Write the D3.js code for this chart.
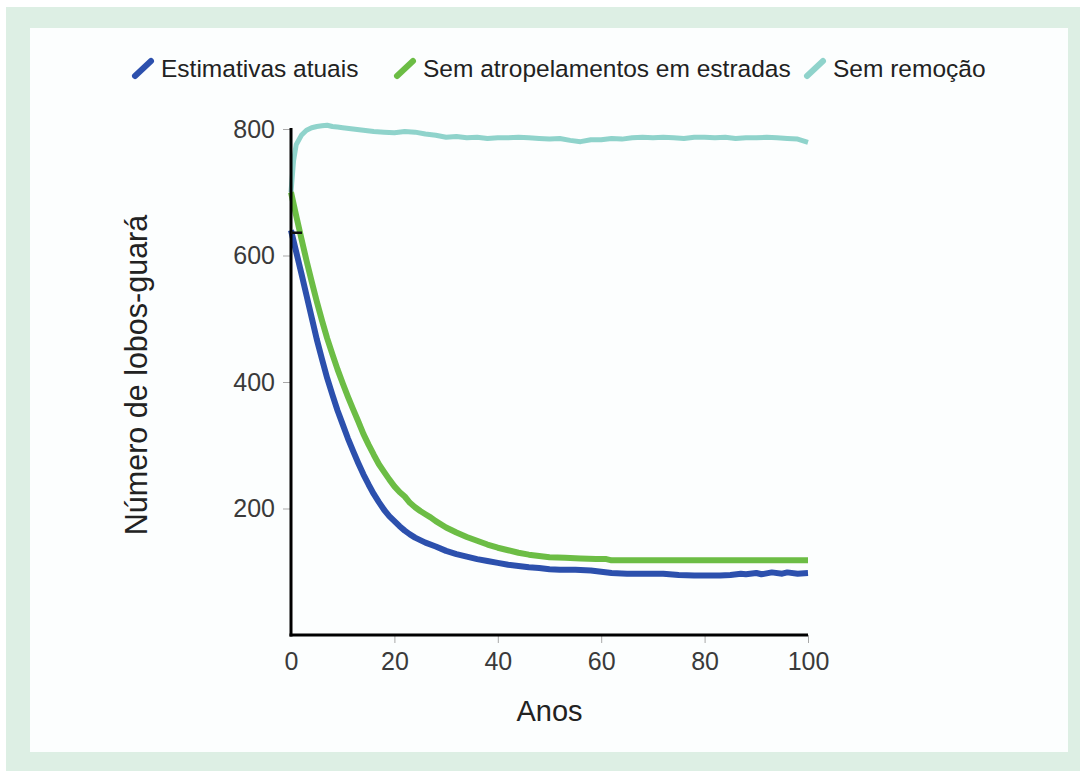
<!DOCTYPE html>
<html>
<head>
<meta charset="utf-8">
<script src="https://cdn.jsdelivr.net/npm/d3@7"></script>
<style>
  html, body { margin: 0; padding: 0; background: #ffffff; }
  svg { display: block; font-family: "Liberation Sans", Arial, sans-serif; }
</style>
</head>
<body>
<div id="chart"></div>
<script>
// Anos lidos no gráfico e valores de cada cenário
const yearsBlue = [0, 1, 2, 3, 4, 5, 6, 7, 8, 9, 10, 11, 12, 13, 14, 15, 16, 17, 18, 19, 20, 21, 22, 23, 24, 25, 26, 28, 30, 32, 34, 36, 38, 40, 42, 44, 46, 48, 50, 52, 55, 58, 60, 62, 65, 68, 70, 72, 75, 78, 80, 83, 85, 87, 88, 90, 91, 93, 95, 96, 98, 100];
const blueValues = [640, 606, 572, 537, 502, 467, 436, 406, 380, 355, 333, 311, 291, 272, 254, 238, 223, 210, 198, 188, 180, 172, 165, 159, 154, 150, 146, 140, 133, 128, 124, 120, 117, 114, 111, 109, 107, 106, 104, 103, 103, 102, 100, 98, 97, 97, 97, 97, 95, 94, 94, 94, 95, 97, 96, 98, 96, 99, 97, 99, 97, 98];

const yearsGreen = [0, 1, 2, 3, 4, 5, 6, 7, 8, 9, 10, 11, 12, 13, 14, 15, 16, 17, 18, 19, 20, 21, 22, 23, 24, 25, 26, 27, 28, 30, 32, 34, 36, 38, 40, 42, 44, 46, 48, 50, 53, 56, 59, 61, 62, 65, 70, 75, 80, 85, 90, 95, 100];
const greenValues = [700, 663, 627, 592, 559, 527, 497, 469, 444, 420, 398, 377, 357, 338, 318, 301, 285, 270, 258, 246, 235, 226, 219, 209, 202, 196, 191, 186, 180, 170, 162, 155, 149, 143, 138, 134, 130, 127, 125, 123, 122, 121, 120, 120, 118, 118, 118, 118, 118, 118, 118, 118, 118];

const yearsTeal = [0, 0.5, 1, 2, 3, 4, 5, 6, 7, 8, 9, 10, 12, 14, 16, 18, 20, 22, 24, 26, 28, 30, 32, 34, 36, 38, 40, 42, 44, 46, 48, 50, 52, 54, 56, 58, 60, 62, 64, 66, 68, 70, 72, 74, 76, 78, 80, 82, 84, 86, 88, 90, 92, 94, 96, 98, 100];
const tealValues = [700, 750, 775, 790, 798, 802, 804, 805, 806, 804, 803, 802, 800, 798, 796, 795, 794, 796, 795, 792, 790, 787, 788, 786, 787, 785, 786, 786, 787, 786, 785, 784, 785, 782, 780, 783, 783, 785, 784, 786, 787, 786, 787, 786, 785, 787, 787, 786, 787, 785, 786, 786, 787, 786, 785, 784, 779];

const seriesNames = ["Estimativas atuais", "Sem atropelamentos em estradas", "Sem remoção"];
const seriesColors = ["#2c50ad", "#6cbd45", "#8fd3cb"];
const xTicks = [0, 20, 40, 60, 80, 100];
const yTicks = [200, 400, 600, 800];
const startMark = 636;

const W = 1086, H = 771;
const svg = d3.select("#chart").append("svg").attr("width", W).attr("height", H);

// moldura
svg.append("rect").attr("x", 6).attr("y", 7).attr("width", 1074).attr("height", 764).attr("fill", "#ddefe4");
svg.append("rect").attr("x", 30).attr("y", 28).attr("width", 1038).attr("height", 724).attr("fill", "#fcfefe");

const x = d3.scaleLinear().domain([0, 100]).range([291, 808]);
const y = d3.scaleLinear().domain([0, 800]).range([635, 129]);

const series = [
    { name: seriesNames[0], color: seriesColors[0], years: yearsBlue, values: blueValues, width: 6 },
    { name: seriesNames[1], color: seriesColors[1], years: yearsGreen, values: greenValues, width: 6 },
    { name: seriesNames[2], color: seriesColors[2], years: yearsTeal, values: tealValues, width: 5 }
];

const line = d3.line().x(d => x(d[0])).y(d => y(d[1]));

// o azul fica à frente
[series[2], series[1], series[0]].forEach(s => {
    svg.append("path")
        .datum(s.years.map((yr, i) => [yr, s.values[i]]))
        .attr("fill", "none")
        .attr("stroke", s.color)
        .attr("stroke-width", s.width)
        .attr("stroke-linejoin", "round")
        .attr("d", line);
});

// eixos
const xAxis = svg.append("g").attr("transform", "translate(0,635)")
    .call(d3.axisBottom(x).tickValues(xTicks).tickSize(8).tickPadding(9));
const yAxis = svg.append("g").attr("transform", "translate(291,0)")
    .call(d3.axisLeft(y).tickValues(yTicks).tickSize(8).tickPadding(8));

[xAxis, yAxis].forEach(g => {
    g.select(".domain").remove();
    g.selectAll(".tick line").attr("stroke", "#a8a8a8").attr("stroke-width", 1);
    g.selectAll(".tick text").attr("fill", "#3a3a3a").attr("font-size", 25).attr("font-family", "Liberation Sans, Arial, sans-serif");
});
xAxis.select(".tick line").remove();

svg.append("line").attr("x1", 291).attr("x2", 291).attr("y1", y(800) - 1).attr("y2", 636.5)
    .attr("stroke", "#000").attr("stroke-width", 3);
svg.append("line").attr("x1", 289.5).attr("x2", x(100)).attr("y1", 635).attr("y2", 635)
    .attr("stroke", "#000").attr("stroke-width", 3);
svg.append("line").attr("x1", 291).attr("x2", 302).attr("y1", y(startMark)).attr("y2", y(startMark))
    .attr("stroke", "#111").attr("stroke-width", 2.5);

// títulos dos eixos
svg.append("text").attr("x", x(50)).attr("y", 721).attr("text-anchor", "middle")
    .attr("font-size", 29).attr("fill", "#222").text("Anos");
svg.append("text").attr("transform", "translate(147,375) rotate(-90)").attr("text-anchor", "middle")
    .attr("font-size", 30.5).attr("fill", "#222").text("Número de lobos-guará");

// legenda
const legendX = [135, 397, 807];
series.forEach((s, i) => {
    const lx = legendX[i];
    svg.append("line").attr("x1", lx).attr("y1", 76).attr("x2", lx + 16).attr("y2", 61)
        .attr("stroke", s.color).attr("stroke-width", 6).attr("stroke-linecap", "round");
    svg.append("text").attr("x", lx + 26).attr("y", 77).attr("font-size", 24.5).attr("fill", "#222").text(s.name);
});
</script>
</body>
</html>
